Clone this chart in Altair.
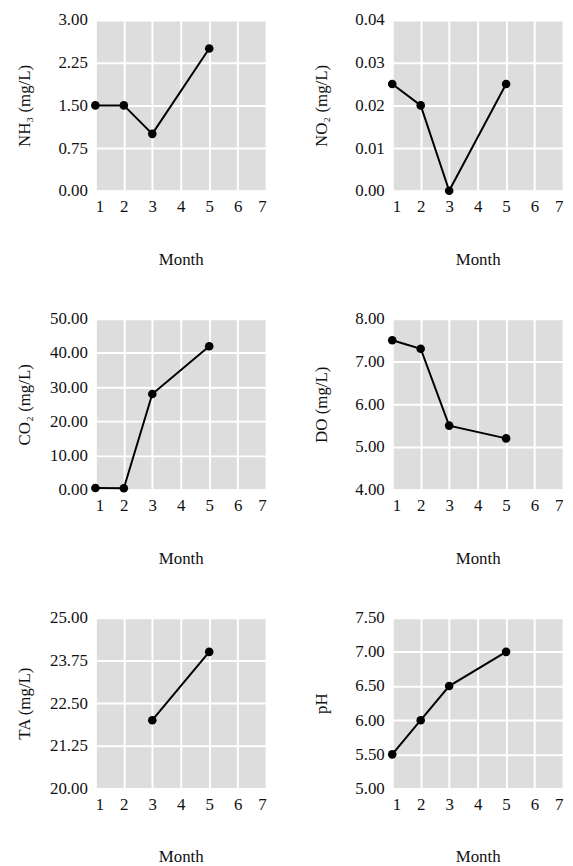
import altair as alt
import pandas as pd

FONT = "Liberation Serif"

months_all = [1, 2, 3, 5]
nh3 = [1.5, 1.5, 1.0, 2.5]
no2 = [0.025, 0.02, 0.0, 0.025]
co2 = [0.5, 0.4, 28.0, 42.0]
do_ = [7.5, 7.3, 5.5, 5.2]
ta_months = [3, 5]
ta = [22.0, 24.0]
ph = [5.5, 6.0, 6.5, 7.0]

x_ticks = [1, 2, 3, 4, 5, 6, 7]
nh3_ticks = [0.0, 0.75, 1.5, 2.25, 3.0]
no2_ticks = [0.0, 0.01, 0.02, 0.03, 0.04]
co2_ticks = [0, 10, 20, 30, 40, 50]
do_ticks = [4, 5, 6, 7, 8]
ta_ticks = [20.0, 21.25, 22.5, 23.75, 25.0]
ph_ticks = [5.0, 5.5, 6.0, 6.5, 7.0, 7.5]

common_axis = dict(
    domain=False, ticks=False, grid=True, gridColor="white", gridWidth=2,
    labelFont=FONT, labelFontSize=17, labelColor="#111111",
    titleFont=FONT, titleFontSize=17, titleFontWeight="normal", titleColor="#111111",
)


def panel(months, values, title, ticks):
    df = pd.DataFrame({"Month": months, "v": values})
    x = alt.X("Month:Q",
              scale=alt.Scale(domain=[x_ticks[0], x_ticks[-1]], nice=False, zero=False),
              axis=alt.Axis(values=x_ticks, format="d", title="Month",
                            minExtent=25, maxExtent=25, titlePadding=36, labelPadding=8,
                            **common_axis))
    y = alt.Y("v:Q",
              scale=alt.Scale(domain=[ticks[0], ticks[-1]], nice=False, zero=False),
              axis=alt.Axis(values=ticks, format=".2f", title=title,
                            minExtent=40, maxExtent=40, titlePadding=22, labelPadding=8,
                            **common_axis))
    base = alt.Chart(df).encode(x=x, y=y)
    line = base.mark_line(color="black", strokeWidth=2)
    pts = base.mark_point(filled=True, color="black", size=75, opacity=1)
    return alt.layer(line, pts).properties(width=172, height=172)


c1 = panel(months_all, nh3, "NH\u2083 (mg/L)", nh3_ticks)
c2 = panel(months_all, no2, "NO\u2082 (mg/L)", no2_ticks)
c3 = panel(months_all, co2, "CO\u2082 (mg/L)", co2_ticks)
c4 = panel(months_all, do_, "DO (mg/L)", do_ticks)
c5 = panel(ta_months, ta, "TA (mg/L)", ta_ticks)
c6 = panel(months_all, ph, "pH", ph_ticks)

chart = alt.vconcat(
    alt.hconcat(c1, c2, spacing=47),
    alt.hconcat(c3, c4, spacing=47),
    alt.hconcat(c5, c6, spacing=47),
    spacing=43,
).properties(
    padding={"left": 8, "top": 0, "right": 2, "bottom": 2}
).configure_view(
    fill="#dddddd", stroke=None
).configure_axis(
    **common_axis
)

chart.save("out.html", embed_options={"renderer": "svg", "actions": False})
